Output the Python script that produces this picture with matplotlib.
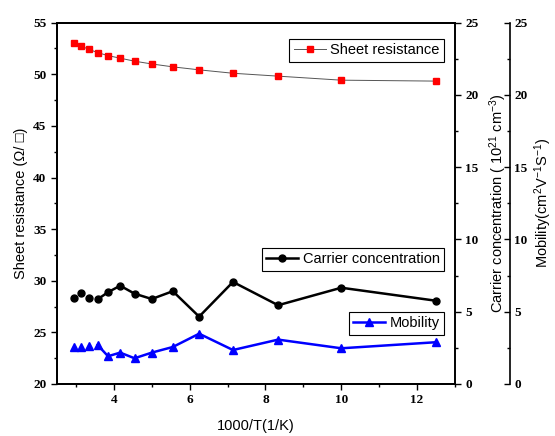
import matplotlib
matplotlib.use("Agg")
import matplotlib.pyplot as plt
from matplotlib.ticker import MultipleLocator

# data
temps = [340, 320, 300, 280, 260, 240, 220, 200, 180, 160, 140, 120, 100, 80]
inv_t = [1000.0 / t for t in temps]
sheet_res = [53.0, 52.75, 52.43, 52.1, 51.81, 51.56, 51.27, 51.0, 50.72, 50.43,
             50.1, 49.82, 49.43, 49.34]
carrier = [5.97, 6.30, 5.97, 5.86, 6.35, 6.80, 6.25, 5.88, 6.42, 4.66, 7.06,
           5.45, 6.66, 5.76]
mobility = [2.58, 2.56, 2.61, 2.70, 1.92, 2.17, 1.78, 2.17, 2.56, 3.48, 2.35,
            3.07, 2.47, 2.89]

plt.rcParams['font.family'] = ['Liberation Sans', 'DejaVu Sans']
plt.rcParams['mathtext.default'] = 'regular'

fig = plt.figure(figsize=(5.55, 4.36), dpi=100)
ax = fig.add_axes([0.1027, 0.1193, 0.7171, 0.8287])
ax2 = ax.twinx()
ax3 = ax.twinx()
ax3.spines['right'].set_position(('axes', 1.138))

tick_font = dict(family='Liberation Serif', weight='bold', size=9.5)
lab_size = 10.5

# Sheet resistance (left axis)
ax.plot(inv_t, sheet_res, color='#555555', lw=0.7, zorder=1)
ax.plot(inv_t, sheet_res, ls='none', marker='s', ms=5, color='#ff0000',
        mec='#ff0000', zorder=2)
h1, = ax.plot([], [], color='#555555', lw=0.7, marker='s', ms=5,
              mfc='#ff0000', mec='#ff0000')

# Carrier concentration
ax2.plot(inv_t[3:], carrier[3:], color='black', lw=1.8)
ax2.plot(inv_t, carrier, ls='none', marker='o', ms=5, color='black')
h2, = ax2.plot([], [], color='black', lw=1.8, marker='o', ms=5)

# Mobility
ax3.plot(inv_t[3:], mobility[3:], color='#0000ff', lw=1.8)
ax3.plot(inv_t, mobility, ls='none', marker='^', ms=6, color='#0000ff')
h3, = ax3.plot([], [], color='#0000ff', lw=1.8, marker='^', ms=6)

ax.set_xlim(2.5, 13)
ax.set_ylim(20, 55)
ax2.set_ylim(0, 25)
ax3.set_ylim(0, 25)

ax.xaxis.set_major_locator(MultipleLocator(2))
ax.xaxis.set_minor_locator(MultipleLocator(1))
ax.yaxis.set_major_locator(MultipleLocator(5))
ax.yaxis.set_minor_locator(MultipleLocator(2.5))
for a in (ax2, ax3):
    a.yaxis.set_major_locator(MultipleLocator(5))
    a.yaxis.set_minor_locator(MultipleLocator(2.5))

ax.tick_params(axis='both', which='major', direction='out', length=4, width=1)
ax.tick_params(axis='both', which='minor', direction='out', length=2.5, width=1)
ax.tick_params(top=False, right=False)
ax2.tick_params(which='major', direction='out', length=4, width=1)
ax2.tick_params(which='minor', direction='out', length=2.5, width=1)
ax3.tick_params(which='major', direction='in', length=4, width=1, pad=3)
ax3.tick_params(which='minor', direction='in', length=2.5, width=1)

for a in (ax, ax2, ax3):
    for lbl in a.get_xticklabels() + a.get_yticklabels():
        lbl.set_fontproperties(tick_font)
    for s in a.spines.values():
        s.set_linewidth(1.2)

ax.set_xlabel('1000/T(1/K)', fontsize=lab_size, labelpad=9)
ax.set_ylabel('Sheet resistance (Ω/ □)', fontsize=lab_size, labelpad=4)
ax2.set_ylabel('Carrier concentration ( 10$^{21}$ cm$^{-3}$)', fontsize=lab_size,
               labelpad=6)
ax3.set_ylabel('Mobility(cm$^{2}$V$^{-1}$S$^{-1}$)', fontsize=lab_size, labelpad=4)

leg_kw = dict(loc='upper right', fontsize=lab_size, fancybox=False,
              edgecolor='black', framealpha=1, borderpad=0.3, handlelength=2.2,
              handletextpad=0.3, borderaxespad=0, bbox_transform=fig.transFigure)
l1 = ax.legend([h1], ['Sheet resistance'], bbox_to_anchor=(0.8, 0.9106), **leg_kw)
l1.get_frame().set_linewidth(0.8)
ax.add_artist(l1)
l2 = ax.legend([h2], ['Carrier concentration'], bbox_to_anchor=(0.8, 0.431), **leg_kw)
l2.get_frame().set_linewidth(0.8)
ax.add_artist(l2)
l3 = ax.legend([h3], ['Mobility'], bbox_to_anchor=(0.8, 0.2844), **leg_kw)
l3.get_frame().set_linewidth(0.8)

fig.savefig('out.png', dpi=100)
